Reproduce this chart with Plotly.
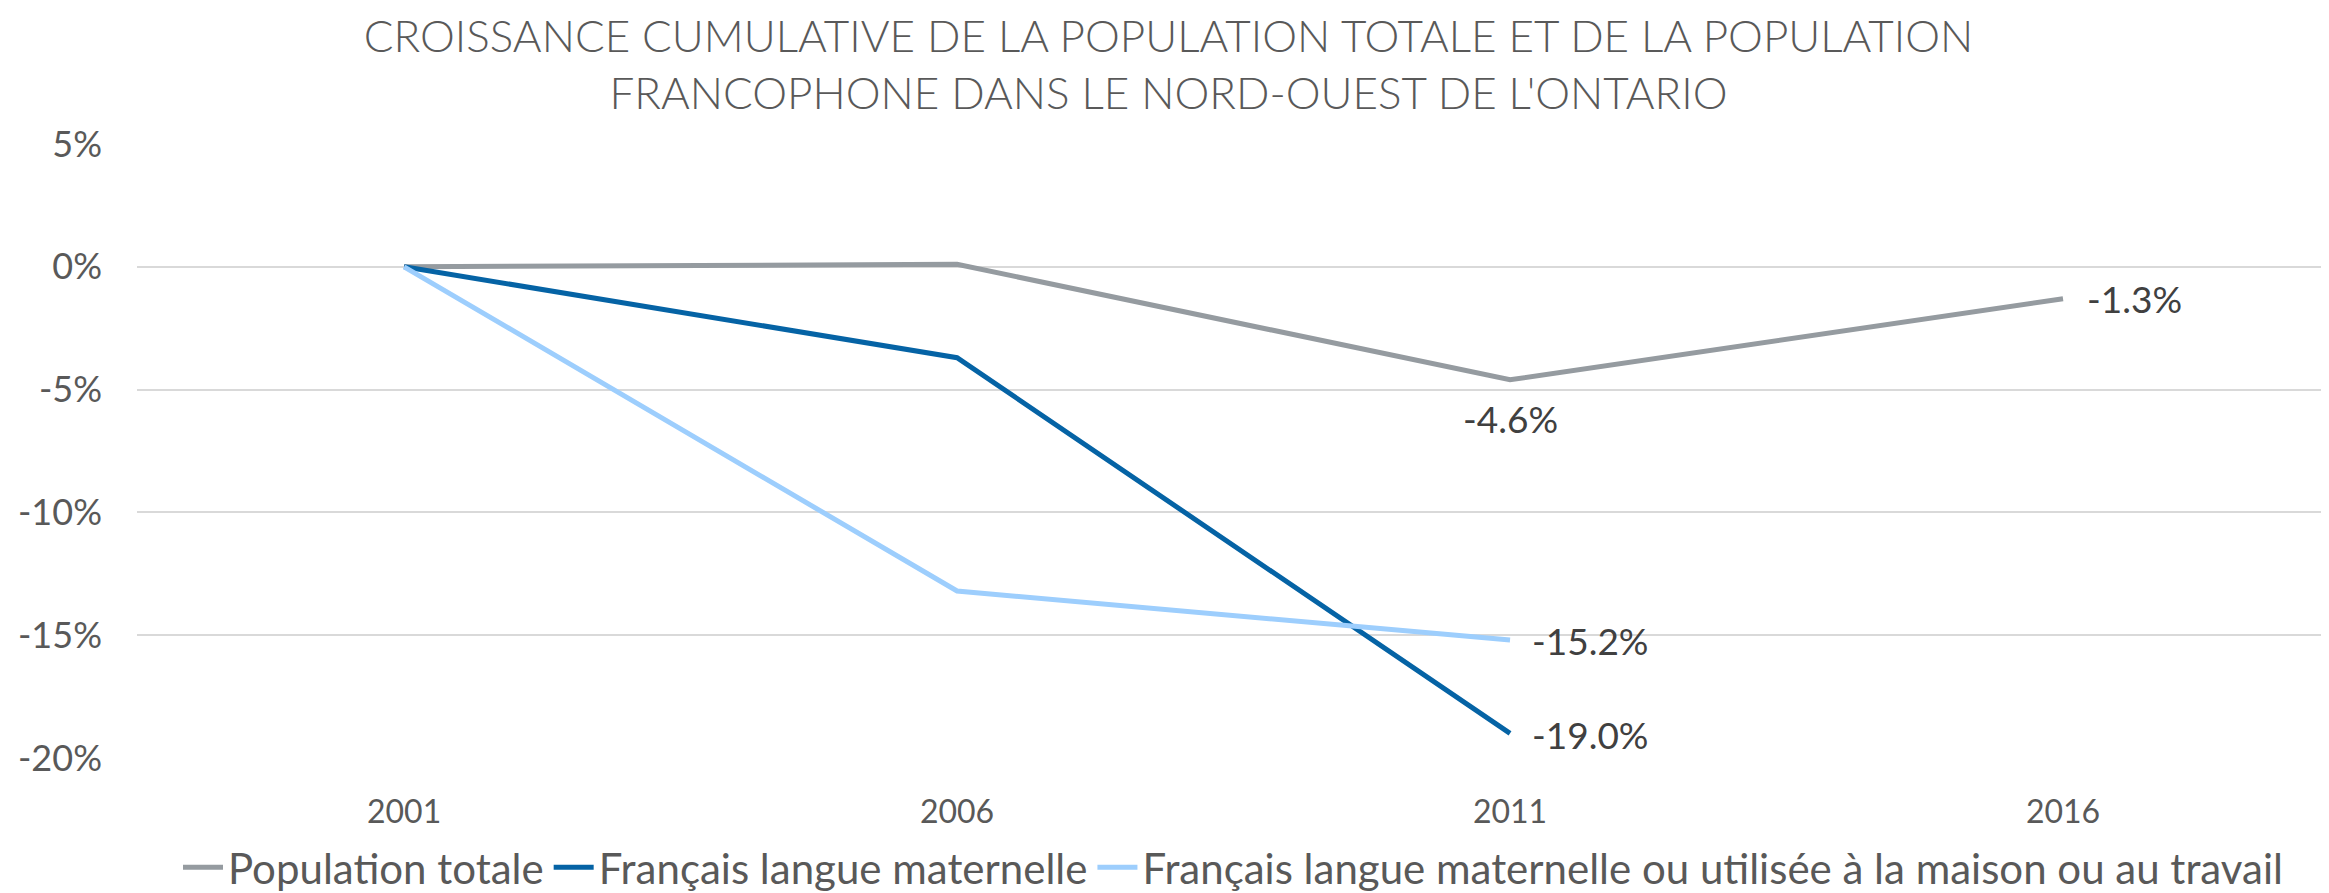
import plotly.graph_objects as go

years = ["2001", "2006", "2011", "2016"]
pop_totale = [0.0, 0.1, -4.6, -1.3]
fr_maternelle = [0.0, -3.7, -19.0]
fr_mat_maison = [0.0, -13.2, -15.2]

series_names = [
    "Population totale",
    "Français langue maternelle",
    "Français langue maternelle ou utilisée à la maison ou au travail",
]
colors = ["#959BA0", "#0563A5", "#9DCEFD"]
y_ticks = [5, 0, -5, -10, -15, -20]

FONT = "Lato"
TXT = "#595959"

fig = go.Figure()
for name, vals, col in zip(series_names, [pop_totale, fr_maternelle, fr_mat_maison], colors):
    fig.add_trace(go.Scatter(
        x=years[:len(vals)], y=vals, name=name, mode="lines",
        line=dict(color=col, width=5), hoverinfo="skip",
    ))

def fmt(v):
    return f"{v:.1f}%"

# (category index, value, xshift, yshift, anchor)
annos = [
    (2, pop_totale[2], 0, -39, "center"),
    (3, pop_totale[3], 22, 0, "left"),
    (2, fr_mat_maison[2], 20, 0, "left"),
    (2, fr_maternelle[2], 20, -1, "left"),
]
for xi, y, xs, ys, xa in annos:
    fig.add_annotation(x=xi, y=y, text=fmt(y), showarrow=False, xanchor=xa,
                       yanchor="middle", xshift=xs, yshift=ys,
                       font=dict(family=FONT, size=37, color="#404040"))

# the page body has an 8px default margin, so the figure is sized to fit the window
fig.update_layout(
    width=2321, height=885,
    paper_bgcolor="white", plot_bgcolor="white",
    margin=dict(l=129, r=0, t=136, b=135, autoexpand=False),
    title=dict(
        text="CROISSANCE CUMULATIVE DE LA POPULATION TOTALE ET DE LA POPULATION<br>FRANCOPHONE DANS LE NORD-OUEST DE L'ONTARIO",
        x=0.5, xanchor="center", y=0.95, yanchor="top",
        font=dict(family=FONT, size=44, color=TXT, weight=300),
    ),
    xaxis=dict(
        type="category", range=[-0.483, 3.481], showgrid=False, zeroline=False,
        showline=False, ticks="", tickfont=dict(family=FONT, size=32, color=TXT),
        ticklabelstandoff=32, automargin=False,
    ),
    yaxis=dict(
        range=[-20, 5], tickvals=y_ticks, ticktext=[f"{v}%" for v in y_ticks],
        showgrid=True, gridcolor="#D9D9D9", gridwidth=1.5, zeroline=False,
        showline=False, ticks="", tickfont=dict(family=FONT, size=36, color=TXT),
        ticklabelstandoff=34, automargin=False,
    ),
    legend=dict(
        orientation="h", x=0.5, xanchor="center", yref="container", y=0.029, yanchor="middle",
        font=dict(family=FONT, size=42, color=TXT), itemwidth=40,
        traceorder="normal",
    ),
    showlegend=True,
)

fig.write_html("out.html")
